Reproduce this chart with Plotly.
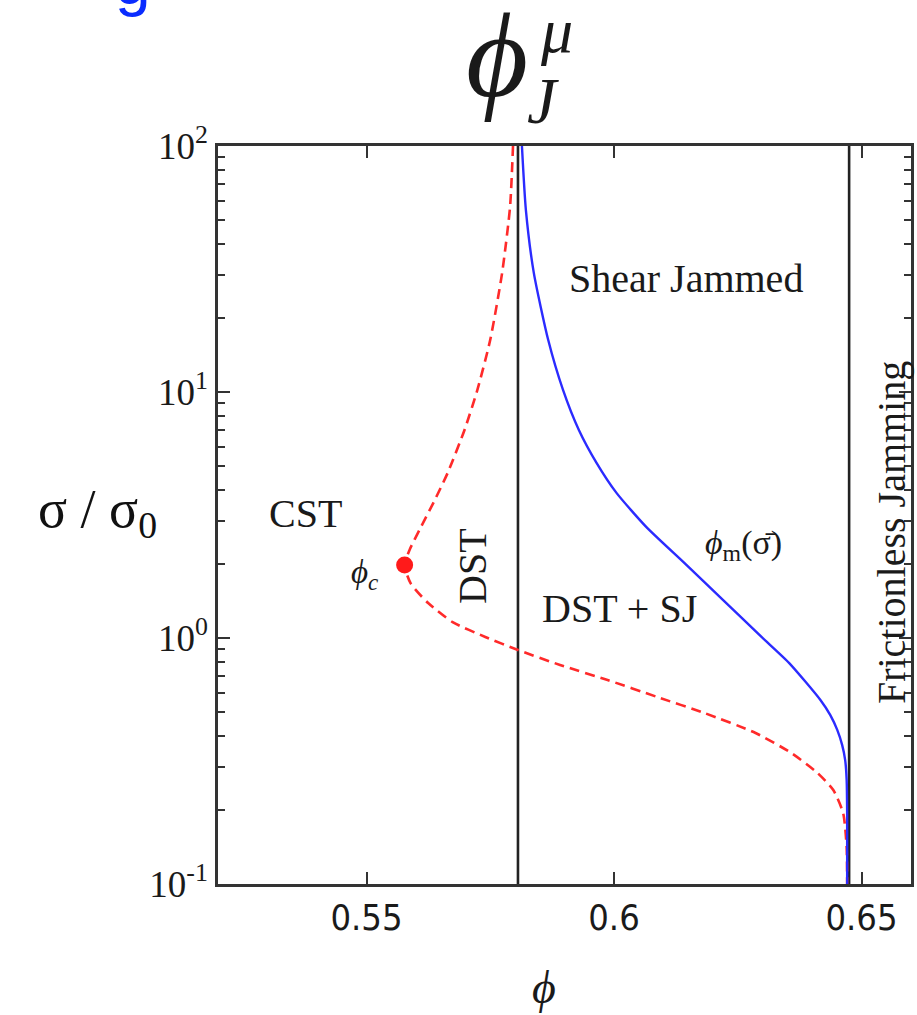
import plotly.graph_objects as go

# Phase boundaries, phi vs sigma/sigma0
red_phi = [0.5796, 0.5790, 0.5774, 0.5750, 0.5724, 0.5698, 0.5664, 0.5638, 0.5607,
           0.5587, 0.5577, 0.5589, 0.5624, 0.5674, 0.5740, 0.5806, 0.5891, 0.5987,
           0.6087, 0.6182, 0.6286, 0.6358, 0.6411, 0.6443, 0.6463, 0.6470, 0.6471]
red_sigma = [100, 56.5, 30.5, 16.3, 10.2, 7.01, 4.69, 3.64, 2.75,
             2.28, 1.98, 1.67, 1.39, 1.16, 1.01, 0.894, 0.777, 0.675,
             0.576, 0.496, 0.411, 0.341, 0.283, 0.241, 0.194, 0.141, 0.1]

blue_phi = [0.5814, 0.5822, 0.5838, 0.5867, 0.5897, 0.5929, 0.5965, 0.6005, 0.6065,
            0.6142, 0.6220, 0.6298, 0.6354, 0.6417, 0.6437, 0.6451, 0.6461, 0.6467,
            0.6470, 0.6471, 0.6471]
blue_sigma = [100, 54.9, 30.5, 16.3, 10.2, 7.01, 5.14, 3.89, 2.83,
              2.02, 1.43, 1.01, 0.791, 0.560, 0.486, 0.423, 0.367, 0.319,
              0.265, 0.194, 0.1]

phi_c = [0.5577]
sigma_c = [1.98]

phi_dst = 0.5806      # DST boundary (phi_J^mu)
phi_frictionless = 0.6475
sigma_span = [0.1, 100]

x_ticks = [0.55, 0.6, 0.65]
x_ticktext = ["0.55", "0.6", "0.65"]
y_ticks = [0.1, 1, 10, 100]
y_ticktext = ["10<sup>-1</sup>", "10<sup>0</sup>", "10<sup>1</sup>", "10<sup>2</sup>"]
y_minor = [m * 10 ** e for e in (-1, 0, 1) for m in range(2, 10)]

W, H = 917, 1015
ML, MR, MT, MB = 218, 3, 146, 131
PW, PH = W - ML - MR, H - MT - MB


def px(xp):
    return (xp - ML) / PW


def py(yp):
    return (H - MB - yp) / PH


serif = "Liberation Serif, Times New Roman, serif"
narrow = "Liberation Sans Narrow, DejaVu Sans Condensed, Liberation Sans, sans-serif"
frame = "#333333"

fig = go.Figure()

for xv in (phi_dst, phi_frictionless):
    fig.add_trace(go.Scatter(x=[xv, xv], y=sigma_span, mode="lines",
                             line=dict(color="#222222", width=2.6),
                             showlegend=False, hoverinfo="skip"))

fig.add_trace(go.Scatter(x=red_phi, y=red_sigma, mode="lines",
                         line=dict(color="#ff2a2a", width=2.6, dash="10px,6px",
                                   shape="spline", smoothing=0.6),
                         showlegend=False))
fig.add_trace(go.Scatter(x=blue_phi, y=blue_sigma, mode="lines",
                         line=dict(color="#2b2bff", width=2.4,
                                   shape="spline", smoothing=0.6),
                         showlegend=False))
fig.add_trace(go.Scatter(x=phi_c, y=sigma_c, mode="markers",
                         marker=dict(color="#ff1a1a", size=17),
                         showlegend=False))

ann = []


def text(x, y, s, size, color="#1a1a1a", family=serif, angle=0, xanchor="center",
         yanchor="middle", xref="paper", yref="paper"):
    ann.append(dict(x=x, y=y, xref=xref, yref=yref, text=s, showarrow=False,
                    font=dict(size=size, color=color, family=family),
                    textangle=angle, xanchor=xanchor, yanchor=yanchor))


# region labels
text(px(306), py(513), "CST", 40)
text(px(688), py(278), "Shear Jammed", 40)
text(px(621), py(608), "DST + SJ", 40)
text(px(473), py(566), "DST", 40, angle=-90)
text(px(894), py(533), "Frictionless Jamming", 40, angle=-90)
text(px(365), py(574), "<i>ϕ</i><sub><i>c</i></sub>", 33)
text(px(746), py(545), "<i>ϕ</i><sub>m</sub>(σ̄)", 34)

# title phi_J^mu
text(px(498), py(56), "<i>ϕ</i>", 120)
text(px(558), py(30), "<i>μ</i>", 64)
text(px(544), py(100), "<i>J</i>", 66)

# axis titles
text(px(97), py(512), "σ / σ<sub>0</sub>", 54, color="#111111")
text(px(545), py(988), "<i>ϕ</i>", 46)

# clipped heading above the figure
text(px(133), py(-18), "g", 64, color="#0a2cff",
     family="Liberation Sans, Arial, sans-serif")

fig.update_layout(
    width=W, height=H,
    margin=dict(l=ML, r=MR, t=MT, b=MB, pad=0),
    paper_bgcolor="white", plot_bgcolor="white",
    annotations=ann,
    xaxis=dict(range=[0.52, 0.66], tickvals=x_ticks, ticktext=x_ticktext,
               ticks="inside", ticklen=12, tickwidth=2, tickcolor=frame,
               showline=True, linecolor=frame, linewidth=2.5, mirror="allticks",
               showgrid=False, zeroline=False,
               tickfont=dict(family=narrow, size=36, color="#1a1a1a")),
    yaxis=dict(type="log", range=[-1, 2], tickvals=y_ticks, ticktext=y_ticktext,
               ticks="inside", ticklen=12, tickwidth=2, tickcolor=frame,
               minor=dict(tickvals=y_minor, ticks="inside", ticklen=7,
                          tickwidth=2, tickcolor=frame, showgrid=False),
               showline=True, linecolor=frame, linewidth=2.5, mirror="allticks",
               showgrid=False, zeroline=False,
               tickfont=dict(family=serif, size=37, color="#1a1a1a")),
)

fig.write_html("out.html")
